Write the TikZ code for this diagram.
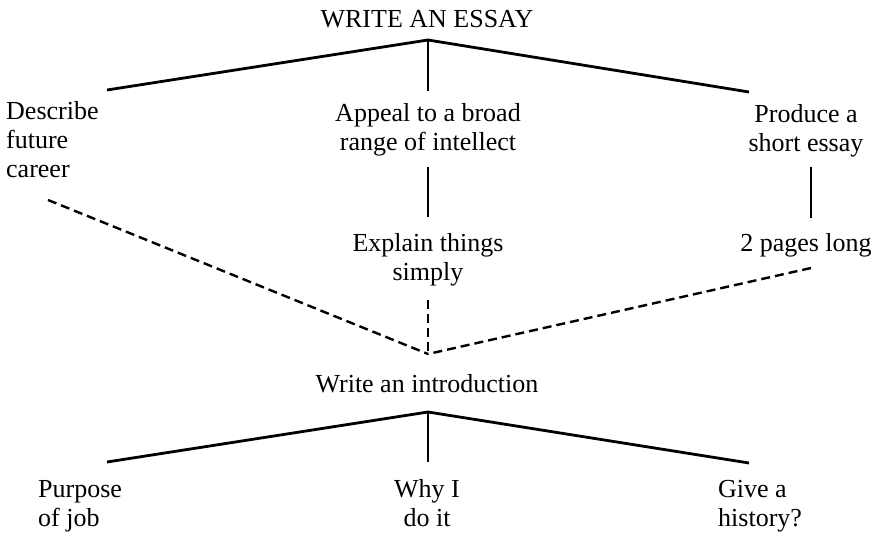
\documentclass[tikz,border=0pt]{standalone}
\usepackage{fontspec}
\setmainfont{Liberation Serif}
\begin{document}
\begin{tikzpicture}[x=1pt,y=-1pt,
  label/.style={inner sep=0pt,anchor=base,font=\fontsize{26}{29}\selectfont},
  tree/.style={line width=2.8pt},
  link/.style={line width=2.4pt,dash pattern=on 9pt off 5pt},
  stem/.style={line width=2pt}]
\useasboundingbox (0,0) rectangle (879,537);

% goal and its three sub-goals (multi-line labels sit on their last baseline)
\node[label] (essay) at (427,28) {WRITE AN ESSAY};
\coordinate (top) at (428,40);
\coordinate (topL) at (107,90);
\coordinate (topM) at (428,91);
\coordinate (topR) at (749,92);
\draw[tree] (topL) -- (top) -- (topR);
\draw[tree] (top) -- (topM);

\node[label,align=left,anchor=base west] (career) at (6,178) {Describe\\future\\career};
\node[label,align=center] (appeal) at (428,151) {Appeal to a broad\\range of intellect};
\node[label,align=center] (short) at (806,152) {Produce a\\short essay};

% refinements
\node[label,align=center] (simple) at (428,281) {Explain things\\simply};
\node[label] (pages) at (806,252) {2 pages long};
\coordinate (appealB) at (428,167);
\coordinate (simpleT) at (428,217);
\coordinate (shortB) at (811,167);
\coordinate (pagesT) at (811,218);
\draw[stem] (appealB) -- (simpleT);
\draw[stem] (shortB) -- (pagesT);

% dashed links into the introduction
\coordinate (meet) at (428,354);
\coordinate (careerB) at (48,200);
\coordinate (simpleB) at (428,300);
\coordinate (pagesB) at (811,268);
\draw[link] (careerB) -- (meet);
\draw[link] (simpleB) -- (meet);
\draw[link] (pagesB) -- (meet);

\node[label] (intro) at (427,393) {Write an introduction};
\coordinate (bot) at (428,412);
\coordinate (botL) at (107,462);
\coordinate (botM) at (428,462);
\coordinate (botR) at (749,463);
\draw[tree] (botL) -- (bot) -- (botR);
\draw[tree] (bot) -- (botM);

\node[label,align=left,anchor=base west] (purpose) at (38,526) {Purpose\\of job};
\node[label,align=center] (why) at (427,526) {Why I\\do it};
\node[label,align=left,anchor=base west] (history) at (718,526) {Give a\\history?};
\end{tikzpicture}
\end{document}
